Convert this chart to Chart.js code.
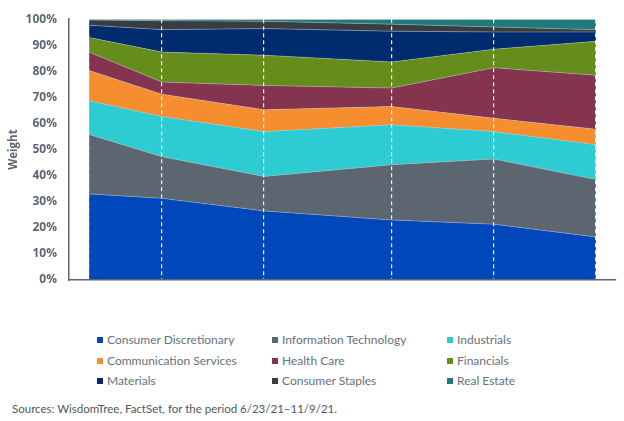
<!DOCTYPE html>
<html>
<head>
<meta charset="utf-8">
<script src="https://cdn.jsdelivr.net/npm/chart.js@4.4.0/dist/chart.umd.min.js"></script>
<style>
  body { margin: 0; background: #fff; width: 624px; height: 421px; overflow: hidden; position: relative; }
  #wrap { position: absolute; left: 0; top: 0; width: 624px; height: 300px; }
  #legend { position: absolute; left: 97px; top: 330px; display: grid; grid-template-columns: 175px 175px 175px; }
  .item { height: 20.5px; line-height: 20.5px; font-family: Lato, sans-serif; font-size: 12px; color: #67717b; white-space: nowrap; }
  .sw { display: inline-block; width: 6px; height: 6px; margin-right: 4px; vertical-align: 1px; }
  #source { position: absolute; left: 12px; top: 402px; font-family: Lato, sans-serif; font-size: 11.5px; color: #50575e; white-space: nowrap; }
</style>
</head>
<body>
<div id="wrap"><canvas id="chart" width="624" height="300"></canvas></div>
<div id="legend"></div>
<div id="source">Sources: WisdomTree, FactSet, for the period 6/23/21–11/9/21.</div>
<script>
// days since 6/23/21 for each rebalance point (x axis is unlabeled)
const days = [0, 20, 48, 83, 111, 139];

const sectors = ['Consumer Discretionary', 'Information Technology', 'Industrials',
  'Communication Services', 'Health Care', 'Financials',
  'Materials', 'Consumer Staples', 'Real Estate'];

const consumerDiscretionary = [33.0, 31.3, 26.5, 23.0, 21.4, 16.5];
const informationTechnology = [22.8, 16.0, 13.2, 21.2, 25.0, 22.0];
const industrials           = [12.9, 15.4, 17.2, 15.3, 10.5, 13.4];
const communicationServices = [11.6, 8.5, 8.4, 7.0, 5.1, 5.9];
const healthCare            = [7.1, 4.7, 9.3, 7.1, 19.4, 20.7];
const financials            = [5.6, 11.5, 11.6, 10.0, 7.1, 13.0];
const materials             = [4.7, 8.6, 10.2, 11.8, 6.6, 3.6];
const consumerStaples       = [2.0, 3.4, 2.8, 2.7, 1.9, 0.9];
const realEstate            = [0.3, 0.6, 0.8, 1.9, 3.0, 4.0];

const yTicks = [0, 10, 20, 30, 40, 50, 60, 70, 80, 90, 100];

const colors = ['#0047bb', '#5b6670', '#2dccd3', '#f68d2e', '#84344e',
  '#658d1b', '#002b6e', '#373d42', '#1f7a7a'];

const series = [consumerDiscretionary, informationTechnology, industrials,
  communicationServices, healthCare, financials, materials, consumerStaples, realEstate];

const datasets = series.map((vals, i) => ({
  label: sectors[i],
  data: days.map((d, j) => ({ x: d, y: vals[j] })),
  backgroundColor: colors[i],
  borderColor: 'rgba(190,195,200,0.55)',
  borderWidth: 0.8,
  fill: i === 0 ? 'origin' : '-1',
  pointRadius: 0,
  tension: 0
}));

const axisColor = '#5b6670';

new Chart(document.getElementById('chart'), {
  type: 'line',
  data: { datasets: datasets },
  options: {
    responsive: false,
    animation: false,
    layout: { padding: { top: 19, right: 8, bottom: 20, left: 0 } },
    plugins: { legend: { display: false }, tooltip: { enabled: false } },
    scales: {
      x: {
        type: 'linear',
        min: -5.5,
        max: 144.5,
        afterBuildTicks: s => { s.ticks = days.map(v => ({ value: v })); },
        ticks: { display: false },
        grid: { color: 'rgba(255,255,255,0.9)', lineWidth: 1.2, drawTicks: false, z: 1 },
        border: { display: true, color: axisColor, width: 1.5, dash: [4, 3], z: 2 }
      },
      y: {
        stacked: true,
        min: 0,
        max: 100,
        afterFit: s => { s.width = 69; },
        afterBuildTicks: s => { s.ticks = yTicks.map(v => ({ value: v })); },
        ticks: {
          callback: v => v + '%',
          color: axisColor,
          padding: 12,
          font: { family: 'Open Sans', weight: 'bold', size: 12 }
        },
        grid: { display: false, drawTicks: false },
        border: { display: true, color: axisColor, width: 1.5, z: 2 },
        title: {
          display: true,
          text: 'Weight',
          color: axisColor,
          padding: { top: 7 },
          font: { family: 'Open Sans', weight: 'bold', size: 11.5 }
        }
      }
    }
  }
});

// legend in three columns
const legend = document.getElementById('legend');
sectors.forEach((name, i) => {
  const item = document.createElement('div');
  item.className = 'item';
  item.innerHTML = '<span class="sw" style="background:' + colors[i] + '"></span>' + name;
  legend.appendChild(item);
});
</script>
</body>
</html>
